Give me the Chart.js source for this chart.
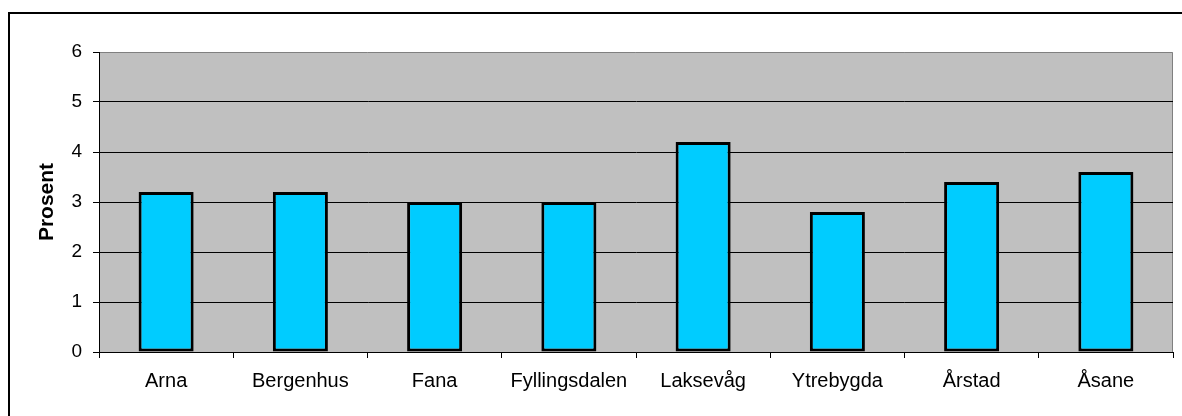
<!DOCTYPE html>
<html lang="no">
<head>
    <meta charset="UTF-8">
    <title>Prosent per bydel</title>
    <script src="https://cdn.jsdelivr.net/npm/chart.js"></script>
    <style>
        body { margin: 0; background: #ffffff; }
        .wrap { position: relative; width: 1182px; height: 416px; }
        .frame {
            position: absolute; left: 8px; top: 12px; right: -10px; bottom: -10px;
            border-left: 2px solid #000; border-top: 2px solid #000;
        }
        canvas { position: absolute; left: 0; top: 0; }
    </style>
</head>
<body>
    <div class="wrap">
        <div class="frame"></div>
        <canvas id="chart" width="1182" height="416"></canvas>
    </div>
    <script>
        // data
        const bydeler = ['Arna', 'Bergenhus', 'Fana', 'Fyllingsdalen', 'Laksevåg', 'Ytrebygda', 'Årstad', 'Åsane'];
        const prosent = [3.2, 3.2, 3.0, 3.0, 4.2, 2.8, 3.4, 3.6];
        const yMin = 0, yMax = 6, yStep = 1;

        const font = 'Liberation Sans, Arial, sans-serif';

        // grey plot area with a darker edge, like Excel
        const plotBackground = {
            id: 'plotBackground',
            beforeDraw(chart) {
                const { ctx, chartArea: a } = chart;
                ctx.save();
                ctx.fillStyle = '#c0c0c0';
                ctx.fillRect(a.left, a.top, a.right - a.left, a.bottom - a.top);
                ctx.strokeStyle = '#808080';
                ctx.lineWidth = 1;
                ctx.beginPath();
                ctx.moveTo(a.left, a.top + 0.5);
                ctx.lineTo(a.right - 0.5, a.top + 0.5);
                ctx.lineTo(a.right - 0.5, a.bottom);
                ctx.stroke();
                ctx.restore();
            }
        };

        new Chart(document.getElementById('chart'), {
            type: 'bar',
            data: {
                labels: bydeler,
                datasets: [{
                    label: 'Prosent',
                    data: prosent,
                    backgroundColor: '#00ccff',
                    borderColor: '#000000',
                    borderWidth: 3,
                    borderSkipped: false,
                    barPercentage: 0.41,
                    categoryPercentage: 1.0
                }]
            },
            options: {
                responsive: false,
                animation: false,
                layout: { padding: { top: 52, right: 9, left: 0, bottom: 0 } },
                plugins: {
                    legend: { display: false },
                    tooltip: { enabled: false }
                },
                scales: {
                    x: {
                        grid: {
                            offset: true,
                            drawOnChartArea: false,
                            tickColor: '#000',
                            tickLength: 6
                        },
                        border: { color: '#000', width: 1 },
                        ticks: {
                            color: '#000',
                            font: { family: font, size: 20 },
                            padding: 11,
                            maxRotation: 0
                        },
                        afterFit(scale) { scale.height = 64; }
                    },
                    y: {
                        min: yMin,
                        max: yMax,
                        grid: {
                            color: c => (c.tick && c.tick.value === yMax) ? 'rgba(0,0,0,0)' : '#000',
                            tickColor: '#000',
                            tickLength: 6,
                            lineWidth: 1
                        },
                        border: { color: '#000', width: 1 },
                        ticks: {
                            stepSize: yStep,
                            color: '#000',
                            font: { family: font, size: 19 },
                            padding: 11
                        },
                        title: {
                            display: true,
                            text: 'Prosent',
                            color: '#000',
                            font: { family: font, size: 21, weight: 'bold' },
                            padding: { top: 35, bottom: 0 }
                        },
                        afterFit(scale) { scale.width = 99; }
                    }
                }
            },
            plugins: [plotBackground]
        });
    </script>
</body>
</html>
